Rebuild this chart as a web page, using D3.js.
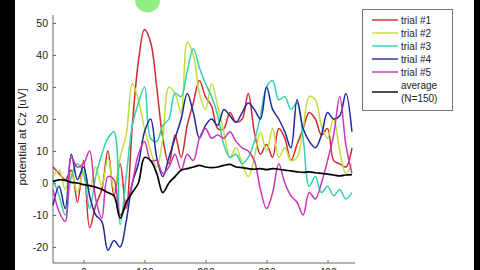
<!DOCTYPE html>
<html lang="en">
<head>
    <meta charset="UTF-8">
    <title>ERP trials</title>
    <script src="https://d3js.org/d3.v7.min.js"></script>
    <style>
        body { margin: 0; background: #000; }
        svg { display: block; font-family: "Liberation Sans", Arial, sans-serif; }
    </style>
</head>
<body>
    <svg></svg>

    <script>
        const width = 480, height = 270;

        // time in ms, one sample every 10 ms
        const times = [-50, -40, -30, -20, -10, 0, 10, 20, 30, 40, 50, 60, 70, 80, 90, 100, 110, 120, 130, 140,
            150, 160, 170, 180, 190, 200, 210, 220, 230, 240, 250, 260, 270, 280, 290, 300, 310, 320, 330, 340,
            350, 360, 370, 380, 390, 400, 410, 420, 430, 440];

        const trial1 = [5, 3, 1, 4, -6, 7, -14, -7, -2, 10, -4, 6, -8, 18, 38, 48, 44, 30, 14, 6,
            15, 8, 18, 25, 32, 27, 24, 17, 17, 22, 19, 20, 28, 16, 9, 12, 8, 17, 14, 7,
            12, 17, 22, 20, 15, 17, 7, 6, 5, 11];
        const trial2 = [2, 4, -2, 3, -3, 4, -2, 5, -1, 8, -2, 8, 15, 31, 26, 17, 10, 5, 14, 30,
            28, 22, 44, 40, 28, 23, 31, 24, 16, 8, 11, 6, 2, 8, 16, 10, 17, 8, 11, 7,
            8, 17, 27, 26, 18, 14, 20, 10, 3, 6];
        const trial3 = [1, -4, -10, 2, 6, 3, -8, 2, 9, 14, 16, -13, 2, 18, 25, 30, 14, 13, 18, 20,
            28, 27, 35, 42, 36, 31, 27, 21, 12, 8, 9, 6, 8, 13, 21, 30, 32, 26, 27, 23,
            25, 14, -1, 2, -3, -1, -4, -2, -5, -3];
        const trial4 = [-7, -1, -8, 9, 1, 5, -4, -10, -12, -21, -18, -20, -12, 0, 6, 16, 20, 8, 2, 8,
            14, 20, 28, 22, 14, 18, 20, 18, 23, 21, 19, 22, 25, 23, 20, 30, 23, 20, 16, 11,
            26, 17, 13, 11, 15, 22, 20, 21, 28, 16];
        const trial5 = [-2, -9, -12, 8, 5, 6, 10, -5, -11, 2, 1, -10, -7, 0, 9, 13, 7, 7, 3, 5,
            9, 4, 9, 7, 14, 17, 14, 15, 14, 16, 13, 11, 10, 7, -2, -8, -3, 6, 0, -4,
            -6, -10, -3, -5, 0, 7, 15, 27, 12, 3];
        const average = [0.5, 1, 0.8, 0.2, 0, -0.5, -0.8, -1.3, -2, -3, -4, -11, -6, -3, 0, 8, 7, 3, -3, 0,
            2, 4, 4.5, 5, 5.5, 5, 4.8, 5, 5.5, 5.8, 5, 4.8, 4.5, 4.3, 4.5, 4.2, 4.5, 4.3, 4, 3.8,
            3.5, 3.3, 3.5, 3.2, 3, 2.8, 2.5, 2.2, 2.5, 2.6];

        const seriesNames = ["trial #1", "trial #2", "trial #3", "trial #4", "trial #5", "average"];
        const seriesValues = [trial1, trial2, trial3, trial4, trial5, average];
        const seriesColors = ["#d02a2e", "#bde03a", "#34d0ac", "#1c2a9c", "#cc34b8", "#000000"];
        const legendNote = "(N=150)";

        const yTicks = [-20, -10, 0, 10, 20, 30, 40, 50];
        const xTicks = [0, 100, 200, 300, 400];
        const yLabel = "potential at Cz  [uV]";

        const x_scale = d3.scaleLinear().domain([-50, 445]).range([53, 355]);
        const y_scale = d3.scaleLinear().domain([-25, 52.5]).range([263, 15]);

        const svg = d3.select("svg")
            .attr("width", width)
            .attr("height", height);

        // white figure area between the black side bars
        svg.append("rect")
            .attr("x", 15).attr("y", 0)
            .attr("width", 459).attr("height", height)
            .attr("fill", "#fff");

        // stimulus marker (green dot)
        svg.append("circle")
            .attr("cx", x_scale(105)).attr("cy", 0)
            .attr("r", 12.5)
            .attr("fill", "#8fee86");

        // axes, MATLAB style ticks pointing inward
        const yAxis = svg.append("g")
            .attr("transform", `translate(${x_scale.range()[0]},0)`)
            .call(d3.axisRight(y_scale).tickValues(yTicks).tickSize(3).tickFormat(""));
        yAxis.select(".domain").attr("d", `M0,${y_scale.range()[0]}V${y_scale.range()[1]}`);

        yAxis.selectAll(".tick").append("text")
            .attr("x", -5).attr("dy", "0.35em")
            .attr("text-anchor", "end")
            .attr("fill", "#222")
            .attr("font-size", 10.5)
            .text(d => d);

        const xAxis = svg.append("g")
            .attr("transform", `translate(0,${y_scale.range()[0]})`)
            .call(d3.axisTop(x_scale).tickValues(xTicks).tickSize(3).tickFormat(""));
        xAxis.select(".domain").attr("d", `M${x_scale.range()[0]},0H${x_scale.range()[1]}`);

        // labels sit partly below the picture edge, as in the reference
        xAxis.selectAll(".tick").append("text")
            .attr("y", 13)
            .attr("text-anchor", "middle")
            .attr("fill", "#222")
            .attr("font-size", 10.5)
            .text(d => d);

        svg.selectAll(".domain, .tick line").attr("stroke", "#666");

        svg.append("text")
            .attr("transform", `translate(26,137) rotate(-90)`)
            .attr("text-anchor", "middle")
            .attr("font-size", 11.5)
            .attr("fill", "#222")
            .text(yLabel);

        const line = d3.line()
            .x((d, i) => x_scale(times[i]))
            .y(d => y_scale(d))
            .curve(d3.curveCatmullRom);

        svg.append("g")
            .selectAll("path")
            .data(seriesValues)
            .join("path")
            .attr("fill", "none")
            .attr("stroke", (d, i) => seriesColors[i])
            .attr("stroke-width", (d, i) => i === 5 ? 1.7 : 1.5)
            .attr("stroke-linejoin", "round")
            .attr("d", line);

        // legend
        const legend = svg.append("g");
        legend.append("rect")
            .attr("x", 362.5).attr("y", 9.5)
            .attr("width", 90).attr("height", 101)
            .attr("fill", "#fff")
            .attr("stroke", "#777");

        const rows = legend.selectAll("g")
            .data(seriesNames)
            .join("g")
            .attr("transform", (d, i) => `translate(0,${20 + i * 13})`);

        rows.append("line")
            .attr("x1", 372).attr("x2", 398)
            .attr("y1", (d, i) => i === 5 ? 7 : 0)
            .attr("y2", (d, i) => i === 5 ? 7 : 0)
            .attr("stroke", (d, i) => seriesColors[i])
            .attr("stroke-width", 1.4);

        rows.append("text")
            .attr("x", 401).attr("dy", "0.35em")
            .attr("font-size", 10)
            .attr("fill", "#222")
            .text(d => d);

        legend.append("text")
            .attr("x", 401).attr("y", 20 + 6 * 13).attr("dy", "0.35em")
            .attr("font-size", 10)
            .attr("fill", "#222")
            .text(legendNote);
    </script>
</body>
</html>
